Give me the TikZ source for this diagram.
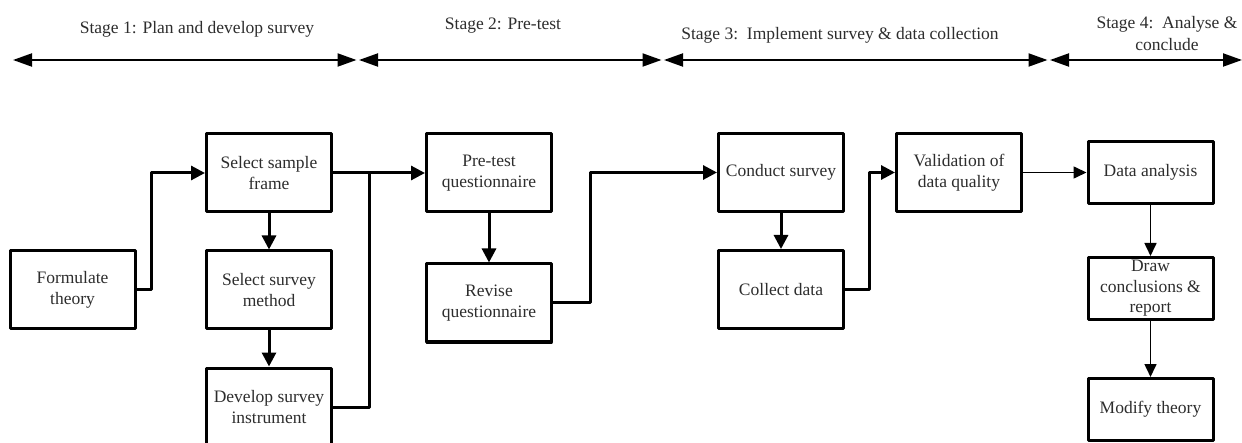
\documentclass[tikz,border=0pt]{standalone}
\usepackage{fontspec}
\setmainfont{Liberation Serif}
\usetikzlibrary{positioning}
\usetikzlibrary{calc}
\usetikzlibrary{arrows.meta}
\definecolor{txtgrey}{RGB}{45,45,45}
\tikzstyle{stepbox} = [
	draw=black,
	line width=3pt,
	line join=round,
	minimum width=125pt,
	minimum height=78pt,
	inner sep=1pt,
	align=center,
	text=txtgrey,
	font=\fontsize{17.5}{20.5}\selectfont
]
\tikzstyle{endbox} = [
	stepbox,
	minimum height=62pt
]
\tikzstyle{link} = [
	line width=3pt,
	line join=round
]
\tikzstyle{flow} = [
	link,
	-{Triangle[length=14pt,width=14pt]}
]
\tikzstyle{thinflow} = [
	line width=1.6pt,
	-{Triangle[length=13pt,width=12pt]}
]
\tikzstyle{span} = [
	line width=2pt,
	{Triangle[length=19pt,width=13pt]}-{Triangle[length=19pt,width=13pt]}
]
\tikzstyle{stagelabel} = [
	align=center,
	text=txtgrey,
	font=\fontsize{17.5}{22}\selectfont
]

\begin{document}
\begin{tikzpicture}[x=1pt, y=1pt, node distance=36pt and 0pt]
	\useasboundingbox (0,0) rectangle (1242,442);

	% Stage bar
	\coordinate (a1) at (13,382);
	\coordinate (b1) at (356.5,382);
	\coordinate (a2) at (359,382);
	\coordinate (b2) at (661.5,382);
	\coordinate (a3) at (664,382);
	\coordinate (b3) at (1047.5,382);
	\coordinate (a4) at (1050,382);
	\coordinate (b4) at (1242,382);
	\draw[span] (a1) -- (b1);
	\draw[span] (a2) -- (b2);
	\draw[span] (a3) -- (b3);
	\draw[span] (a4) -- (b4);
	\node[stagelabel] (S1) at (197,413) {Stage 1: Plan and develop survey};
	\node[stagelabel] (S2) at (503,416) {Stage 2: Pre-test};
	\node[stagelabel] (S3) at (840,407) {Stage 3:\ \ Implement survey \& data collection};
	\node[stagelabel] (S4) at (1167,408) {Stage 4:\ \ Analyse \&\\conclude};

	% Stage 1
	\node[stepbox] (theory) at (72.5,152) {Formulate\\theory};
	\node[stepbox] (frame) at (269,269) {Select sample\\frame};
	\node[stepbox, below=of frame] (method) {Select survey\\method};
	\node[stepbox, below=of method] (instr) {Develop survey\\instrument};

	% Stage 2
	\node[stepbox] (pretest) at (489,269) {Pre-test\\questionnaire};
	\node[stepbox, below=49pt of pretest] (revise) {Revise\\questionnaire};

	% Stage 3
	\node[stepbox] (conduct) at (781,269.5) {Conduct survey};
	\node[stepbox, below=of conduct] (collect) {Collect data};
	\node[stepbox] (valid) at (959,269.5) {Validation of\\data quality};

	% Stage 4
	\node[endbox] (analysis) at (1150.5,269.5) {Data analysis};
	\node[endbox, below=51pt of analysis] (concl) {Draw\\conclusions \&\\report};
	\node[endbox, below=56pt of concl] (modify) {Modify theory};

	% Connectors
	\coordinate (j1) at ($(frame.east)!0.4!(pretest.west)$);
	\draw[flow] (theory.east) -- ++(15,0) |- (frame.west);
	\draw[flow] (frame) -- (method);
	\draw[flow] (method) -- (instr);
	\draw[flow] (frame.east) -- (pretest.west);
	\draw[link] (instr.east) -| (j1);
	\draw[flow] (pretest) -- (revise);
	\draw[flow] (revise.east) -- ++(37,0) |- (conduct.west);
	\draw[flow] (conduct) -- (collect);
	\draw[flow] (collect.east) -- ++(24,0) |- (valid.west);
	\draw[thinflow] (valid) -- (analysis);
	\draw[thinflow] (analysis) -- (concl);
	\draw[thinflow] (concl) -- (modify);

\end{tikzpicture}
\end{document}
